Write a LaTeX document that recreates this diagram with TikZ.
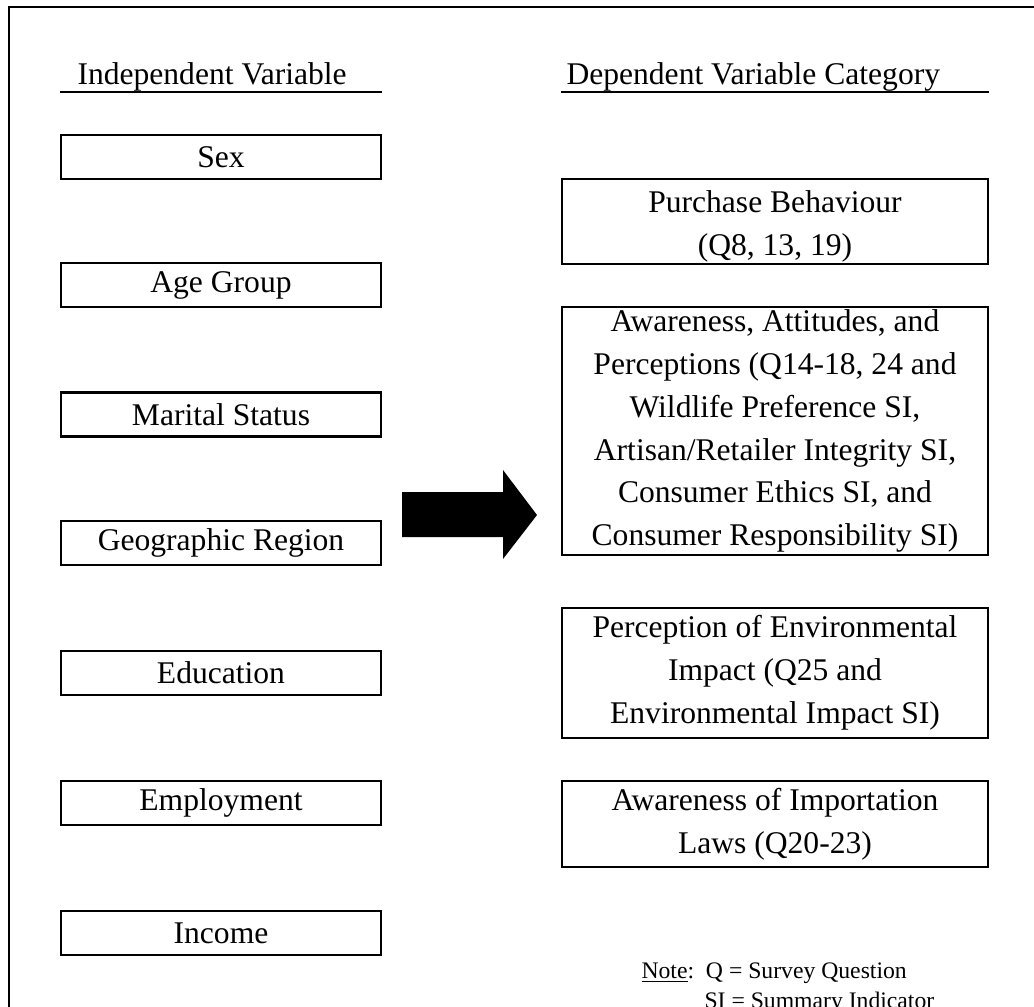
\documentclass[tikz,border=0pt]{standalone}
\usepackage{fontspec}
\setmainfont{Liberation Serif}
\begin{document}
\begin{tikzpicture}[x=0.38pt,y=-0.38pt,
    ivbox/.style={draw,line width=0.9pt,minimum width=121.6pt,minimum height=16.7pt,inner sep=0pt,font=\fontsize{12}{16.3}\selectfont},
    dvbox/.style={draw,line width=0.9pt,minimum width=161.9pt,inner sep=0pt,align=center,font=\fontsize{12}{16.3}\selectfont},
    headtext/.style={anchor=base west,inner sep=0pt,font=\fontsize{12}{16.3}\selectfont},
    notetext/.style={anchor=base west,inner sep=0pt,font=\fontsize{9}{11}\selectfont},
    uline/.style={line width=0.7pt}]
    \useasboundingbox (0,0) rectangle (1034,1006);
    \draw[line width=1.1pt] (1040,7) -| (9,1012);
    % independent variables
    \node[headtext] (ivhead) at (77,84) {Independent Variable};
    \node[ivbox] (sex) at (221,157) {Sex};
    \node[ivbox] (age) at (221,285) {Age Group};
    \node[ivbox] (marital) at (221,414.5) {Marital Status};
    \node[ivbox] (region) at (221,543) {Geographic Region};
    \node[ivbox] (educ) at (221,673) {Education};
    \node[ivbox] (employ) at (221,803) {Employment};
    \node[ivbox] (income) at (221,933) {Income};
    \draw[uline] (sex.west |- 0,92) -- (sex.east |- 0,92);
    % dependent variable categories
    \node[headtext] (dvhead) at (566,84) {Dependent Variable Category};
    \node[dvbox,minimum height=32.3pt] (purchase) at (775,221.5) {\rule{0pt}{12.2pt}Purchase Behaviour\\(Q8, 13, 19)};
    \node[dvbox,minimum height=94.2pt] (aware) at (775,431) {Awareness, Attitudes, and\\Perceptions (Q14-18, 24 and\\Wildlife Preference SI,\\Artisan/Retailer Integrity SI,\\Consumer Ethics SI, and\\Consumer Responsibility SI)};
    \node[dvbox,minimum height=49.4pt] (envimp) at (775,673) {Perception of Environmental\\Impact (Q25 and\\Environmental Impact SI)};
    \node[dvbox,minimum height=32.7pt] (laws) at (775,824) {Awareness of Importation\\Laws (Q20-23)};
    \draw[uline] (purchase.west |- 0,92) -- (purchase.east |- 0,92);
    % big arrow
    \fill (402,492) -- (503,492) -- (503,470) -- (537,515) -- (503,559) -- (503,537) -- (402,537) -- cycle;
    % note
    \node[notetext] (note) at (641,978) {\underline{Note}:\ \ Q = Survey Question};
    \node[notetext] (noteb) at (704,1008) {SI = Summary Indicator};
\end{tikzpicture}
\end{document}
